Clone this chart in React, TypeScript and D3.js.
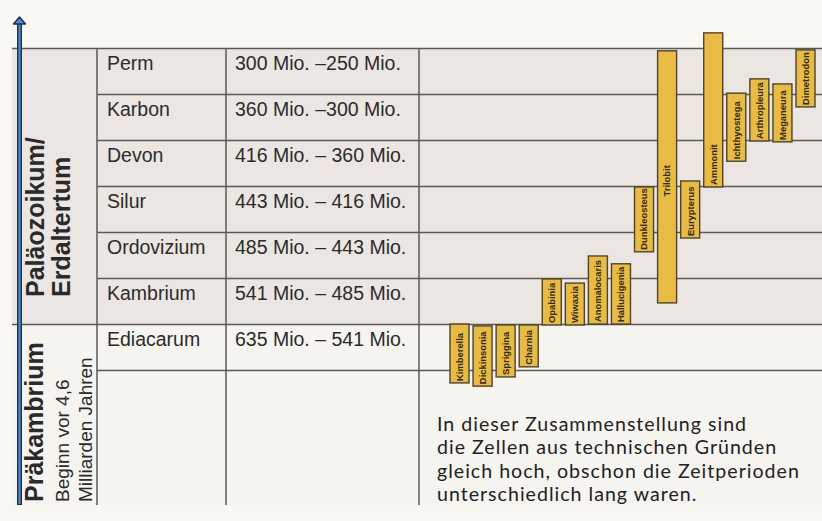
import React, { useEffect } from "react";
import * as d3 from "d3";

// ---- data ----
const periods = ["Perm", "Karbon", "Devon", "Silur", "Ordovizium", "Kambrium", "Ediacarum"];
const periodRanges = [
  "300 Mio. –250 Mio.",
  "360 Mio. –300 Mio.",
  "416 Mio. – 360 Mio.",
  "443 Mio. – 416 Mio.",
  "485 Mio. – 443 Mio.",
  "541 Mio. – 485 Mio.",
  "635 Mio. – 541 Mio.",
];
// era labels
const eraPalaeo = ["Paläozoikum/", "Erdaltertum"];
const eraPrae = ["Präkambrium", "Beginn vor 4,6", "Milliarden Jahren"];

// organisms and their spans, in period units (0 = bottom of Ediacarum, 7 = top of Perm)
const organisms = [
  "Kimberella", "Dickinsonia", "Spriggina", "Charnia", "Opabinia", "Wiwaxia",
  "Anomalocaris", "Hallucigenia", "Dunkleosteus", "Trilobit", "Eurypterus",
  "Ammonit", "Ichthyostega", "Arthropleura", "Meganeura", "Dimetrodon",
];
const spanFrom = [-0.27, -0.34, -0.14, 0.08, 0.99, 0.99, 1.01, 1.01, 2.58, 1.47, 2.88, 3.99, 4.55, 4.99, 4.97, 5.73];
const spanTo = [1.01, 0.97, 0.99, 0.99, 1.99, 1.9, 2.49, 2.32, 3.99, 6.95, 4.12, 7.34, 6.03, 6.34, 6.23, 6.97];
const centeredLabels = ["Trilobit"];

const noteLines = [
  "In dieser Zusammenstellung sind",
  "die Zellen aus technischen Gründen",
  "gleich hoch, obschon die Zeitperioden",
  "unterschiedlich lang waren.",
];

export default function App() {
  useEffect(() => {
    document.body.style.margin = "0";
  }, []);

  const W = 822;
  const H = 521;
  const y = d3.scaleLinear().domain([0, 7]).range([370.5, 48.5]);
  const x = d3.scaleBand<string>().domain(organisms).range([450, 815]).paddingInner(0.176).paddingOuter(0);
  const tableBottom = 505;
  const colName = 97;
  const colRange = 226;
  const colChart = 419;
  const left = 12;
  const lineColor = "#5a5a5a";
  const textColor = "#2b2b2b";
  const sans = "'Liberation Sans', Arial, sans-serif";

  const rowTop = (i: number) => y(7 - i);
  const rowBottom = (i: number) => y(6 - i);

  return (
    <div style={{ position: "fixed", left: 0, top: 0 }}>
      <svg width={W} height={H} style={{ display: "block" }}>
        <rect x={0} y={0} width={W} height={H} fill="#f9f7f2" />
        {/* Paläozoikum background */}
        <rect x={left} y={y(7)} width={W - left} height={y(1) - y(7)} fill="#ebe6e1" />
        {/* Präkambrium background */}
        <rect x={left} y={y(1)} width={W - left} height={tableBottom - y(1)} fill="#f6f4ef" />

        {/* horizontal lines */}
        <line x1={left} x2={W} y1={y(7)} y2={y(7)} stroke={lineColor} strokeWidth={1.5} />
        <line x1={left} x2={W} y1={y(1)} y2={y(1)} stroke={lineColor} strokeWidth={1.5} />
        {d3.range(periods.length).filter((i) => i !== 5).map((i) => (
          <line key={"h" + i} x1={colName} x2={W} y1={rowBottom(i)} y2={rowBottom(i)} stroke={lineColor} strokeWidth={1.5} />
        ))}
        {/* vertical lines */}
        {[colName, colRange, colChart].map((cx) => (
          <line key={"v" + cx} x1={cx} x2={cx} y1={y(7)} y2={tableBottom} stroke={lineColor} strokeWidth={1.5} />
        ))}

        {/* table text */}
        {periods.map((p, i) => (
          <g key={p} fontFamily={sans} fontSize={19.5} fill={textColor}>
            <text x={107} y={rowTop(i) + 21}>{p}</text>
            <text x={235} y={rowTop(i) + 21}>{periodRanges[i]}</text>
          </g>
        ))}

        {/* era labels */}
        <g fontFamily={sans} fill="#2a2a2a">
          <text transform="translate(44,297) rotate(-90)" fontSize={25} fontWeight="bold">{eraPalaeo[0]}</text>
          <text transform="translate(70,297) rotate(-90)" fontSize={25} fontWeight="bold">{eraPalaeo[1]}</text>
          <text transform="translate(43,502) rotate(-90)" fontSize={25} fontWeight="bold">{eraPrae[0]}</text>
          <text transform="translate(69,502) rotate(-90)" fontSize={19}>{eraPrae[1]}</text>
          <text transform="translate(92,502) rotate(-90)" fontSize={19}>{eraPrae[2]}</text>
        </g>

        {/* time arrow */}
        <line x1={19.5} x2={19.5} y1={tableBottom} y2={23} stroke="#1f3148" strokeWidth={5} />
        <line x1={19.5} x2={19.5} y1={tableBottom - 1} y2={22} stroke="#4d8ccc" strokeWidth={2.2} />
        <path d="M13.5,24 L19.5,17 L25.5,24 Z" fill="#4d8ccc" stroke="#1f3148" strokeWidth={1.5} strokeLinejoin="round" />

        {/* organism bars */}
        {organisms.map((o, i) => {
          const x0 = x(o) as number;
          const bw = x.bandwidth();
          const yTop = y(spanTo[i]);
          const yBot = y(spanFrom[i]);
          const centered = centeredLabels.includes(o);
          const ly = centered ? (yTop + yBot) / 2 + 4 : yBot - 2;
          return (
            <g key={o}>
              <rect x={x0} y={yTop} width={bw} height={yBot - yTop} fill="#e8bc44" stroke="#4e4330" strokeWidth={1.4} />
              <text
                transform={`translate(${x0 + bw / 2 + 3.4},${ly}) rotate(-90)`}
                textAnchor={centered ? "middle" : "start"}
                fontFamily={sans}
                fontSize={9.4}
                fontWeight="bold"
                fill="#33291a"
              >
                {o}
              </text>
            </g>
          );
        })}

        {/* note */}
        {noteLines.map((t, i) => (
          <text
            key={i}
            fontFamily="Lato, 'Open Sans', sans-serif"
            fontSize={19.6}
            letterSpacing={1.0}
            fill="#222222"
            x={437}
            y={430.5 + i * 23.6}
          >
            {t}
          </text>
        ))}
      </svg>
    </div>
  );
}
